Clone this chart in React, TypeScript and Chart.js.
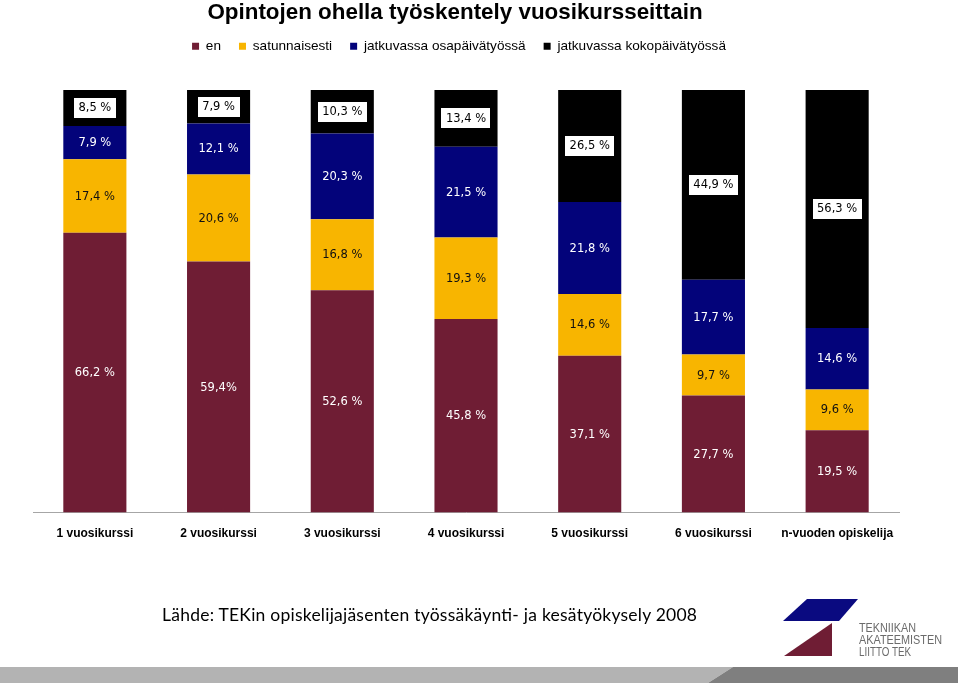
import React, { useEffect, useRef } from "react";
import { Chart, registerables } from "chart.js";

Chart.register(...registerables);

const categories = [
  "1 vuosikurssi",
  "2 vuosikurssi",
  "3 vuosikurssi",
  "4 vuosikurssi",
  "5 vuosikurssi",
  "6 vuosikurssi",
  "n-vuoden opiskelija",
];

const seriesNames = [
  "en",
  "satunnaisesti",
  "jatkuvassa osapäivätyössä",
  "jatkuvassa kokopäivätyössä",
];

const enValues = [66.2, 59.4, 52.6, 45.8, 37.1, 27.7, 19.5];
const satunnaisestiValues = [17.4, 20.6, 16.8, 19.3, 14.6, 9.7, 9.6];
const osapaivaValues = [7.9, 12.1, 20.3, 21.5, 21.8, 17.7, 14.6];
const kokopaivaValues = [8.5, 7.9, 10.3, 13.4, 26.5, 44.9, 56.3];

const enLabels = ["66,2 %", "59,4%", "52,6 %", "45,8 %", "37,1 %", "27,7 %", "19,5 %"];
const satunnaisestiLabels = ["17,4 %", "20,6 %", "16,8 %", "19,3 %", "14,6 %", "9,7 %", "9,6 %"];
const osapaivaLabels = ["7,9 %", "12,1 %", "20,3 %", "21,5 %", "21,8 %", "17,7 %", "14,6 %"];
const kokopaivaLabels = ["8,5 %", "7,9 %", "10,3 %", "13,4 %", "26,5 %", "44,9 %", "56,3 %"];

const seriesColors = ["#6F1D34", "#F8B500", "#03037A", "#000000"];
const labelColors = ["#ffffff", "#111111", "#ffffff", "#000000"];
const boxedSeries = [false, false, false, true];

const titleText = "Opintojen ohella työskentely vuosikursseittain";
const sourceText = "Lähde: TEKin opiskelijajäsenten työssäkäynti- ja kesätyökysely 2008";
const logoLines = ["TEKNIIKAN", "AKATEEMISTEN", "LIITTO TEK"];

const allValues = [enValues, satunnaisestiValues, osapaivaValues, kokopaivaValues];
const allLabels = [enLabels, satunnaisestiLabels, osapaivaLabels, kokopaivaLabels];

const segLabelPlugin = {
  id: "segLabels",
  afterDatasetsDraw(chart: any) {
    const ctx = chart.ctx;
    ctx.save();
    ctx.font = '11.5px "DejaVu Sans"';
    ctx.textAlign = "center";
    ctx.textBaseline = "middle";
    chart.data.datasets.forEach((_ds: any, i: number) => {
      const meta = chart.getDatasetMeta(i);
      const texts = allLabels[i];
      meta.data.forEach((bar: any, j: number) => {
        const { x, y, base } = bar.getProps(["x", "y", "base"], true);
        const cy = (y + base) / 2;
        const t = texts[j];
        if (boxedSeries[i]) {
          const w = ctx.measureText(t).width + 9;
          ctx.fillStyle = "#ffffff";
          ctx.fillRect(Math.round(x - w / 2), Math.round(cy - 10), Math.round(w), 20);
        }
        ctx.fillStyle = labelColors[i];
        ctx.fillText(t, x, cy + 0.5);
      });
    });
    ctx.restore();
  },
};

const headerAdjustPlugin = {
  id: "headerAdjust",
  beforeLayout(chart: any) {
    const legend = chart.legend;
    if (legend && !legend.__patched) {
      const origFit = legend.fit;
      legend.fit = function () {
        origFit.call(this);
        this.height += 27;
      };
      legend.__patched = true;
    }
  },
  afterLayout(chart: any) {
    const t = chart.titleBlock;
    if (t) {
      t.left -= 11;
      t.right -= 11;
    }
    const l = chart.legend;
    if (l) {
      l.left -= 7;
      l.right -= 7;
    }
  },
};

function ChartCanvas() {
  const ref = useRef<HTMLCanvasElement | null>(null);
  useEffect(() => {
    if (!ref.current) return;
    const chart = new Chart(ref.current, {
      type: "bar",
      data: {
        labels: categories,
        datasets: seriesNames.map((name, i) => ({
          label: name,
          data: allValues[i],
          backgroundColor: seriesColors[i],
          borderWidth: 0,
          categoryPercentage: 1,
          barPercentage: 0.51,
        })),
      },
      options: {
        animation: false,
        responsive: true,
        maintainAspectRatio: false,
        layout: { padding: { left: 33, right: 61, top: 0, bottom: 19 } },
        plugins: {
          title: {
            display: true,
            text: titleText,
            color: "#000000",
            font: { family: '"Liberation Sans", Arial, sans-serif', size: 22.4, weight: "bold", lineHeight: 1 },
            padding: { top: 2, bottom: -3 },
          },
          legend: {
            display: true,
            position: "top",
            labels: {
              color: "#000000",
              font: { family: '"Liberation Sans", Arial, sans-serif', size: 13.6 },
              boxWidth: 7,
              boxHeight: 7,
              padding: 18,
            },
          },
          tooltip: { enabled: false },
        },
        scales: {
          x: {
            stacked: true,
            grid: { display: false, drawTicks: false },
            border: { display: true, color: "#A6A6A6", width: 1 },
            ticks: {
              color: "#000000",
              padding: 14,
              font: { family: '"Liberation Sans", Arial, sans-serif', size: 12, weight: "bold" },
            },
          },
          y: {
            stacked: true,
            display: false,
            min: 0,
            max: 100,
          },
        },
      },
      plugins: [segLabelPlugin, headerAdjustPlugin],
    });
    return () => chart.destroy();
  }, []);
  return (
    <div style={{ position: "absolute", left: 0, top: 0, width: 960, height: 574 }}>
      <canvas ref={ref} />
    </div>
  );
}

function Footer() {
  return (
    <svg
      width={960}
      height={686}
      style={{ position: "absolute", left: 0, top: 0, pointerEvents: "none" }}
    >
      <text
        x={162}
        y={621}
        fontFamily="Lato, 'Open Sans', sans-serif"
        fontSize={17.5}
        fill="#000000"
        textLength={535}
        lengthAdjust="spacing"
      >
        {sourceText}
      </text>
      <polygon points="807,599 858,599 839,621 783,621" fill="#0A0A80" />
      <polygon points="832,623 832,656 784,656" fill="#6F1D34" />
      {logoLines.map((line, i) => (
        <text
          key={line}
          x={859}
          y={[632, 644, 656][i]}
          fontFamily="'Liberation Sans', Arial, sans-serif"
          fontSize={12}
          fill="#6B6B6B"
          textLength={[57, 83, 52][i]}
          lengthAdjust="spacingAndGlyphs"
        >
          {line}
        </text>
      ))}
      <polygon points="0,667 733,667 708,683 0,683" fill="#B3B3B3" />
      <polygon points="733,667 958,667 958,683 708,683" fill="#7F7F7F" />
    </svg>
  );
}

export default function App() {
  return (
    <div style={{ position: "absolute", left: 0, top: 0, width: 960, height: 686, background: "#ffffff" }}>
      <ChartCanvas />
      <Footer />
    </div>
  );
}
